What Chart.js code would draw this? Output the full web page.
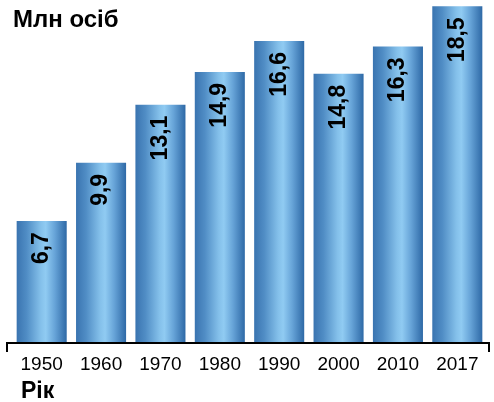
<!DOCTYPE html>
<html>
<head>
<meta charset="utf-8">
<script src="https://cdn.jsdelivr.net/npm/chart.js@4/dist/chart.umd.min.js"></script>
<style>
  html, body { margin: 0; padding: 0; background: #fff; }
  #wrap { width: 494px; height: 402px; position: relative; }
</style>
</head>
<body>
<div id="wrap"><canvas id="c" width="494" height="402"></canvas></div>
<script>
// Population, million people, by year
const years = ['1950', '1960', '1970', '1980', '1990', '2000', '2010', '2017'];
const population = [6.7, 9.9, 13.1, 14.9, 16.6, 14.8, 16.3, 18.5];
const yAxisTitle = 'Млн осіб';
const xAxisTitle = 'Рік';

const FONT = "'Liberation Sans', Arial, Helvetica, sans-serif";
const BAR_PCT = 0.843;

// Horizontal "cylinder" gradient across each bar
function barGradient(ctx) {
  const chart = ctx.chart;
  const xs = chart.scales && chart.scales.x;
  if (!xs || ctx.dataIndex === undefined) return '#4f8cc4';
  const cx = xs.getPixelForValue(ctx.dataIndex);
  const half = (xs.width / years.length) * BAR_PCT / 2;
  if (!isFinite(cx) || !isFinite(half) || half <= 0) return '#4f8cc4';
  const g = chart.ctx.createLinearGradient(cx - half, 0, cx + half, 0);
  g.addColorStop(0.00, '#3a74b0');
  g.addColorStop(0.20, '#508dc5');
  g.addColorStop(0.48, '#84c0ea');
  g.addColorStop(0.58, '#90cbf2');
  g.addColorStop(0.76, '#67a4d8');
  g.addColorStop(1.00, '#2e69a6');
  return g;
}

// Axis line, titles and rotated value labels
const decorations = {
  id: 'decorations',
  afterDatasetsDraw(chart) {
    const { ctx, chartArea } = chart;
    const meta = chart.getDatasetMeta(0);
    ctx.save();
    ctx.fillStyle = '#000';
    ctx.font = 'bold 23px ' + FONT;
    ctx.textAlign = 'right';
    ctx.textBaseline = 'middle';
    meta.data.forEach((bar, i) => {
      const txt = population[i].toFixed(1).replace('.', ',');
      ctx.save();
      ctx.translate(bar.x, bar.y + 11);
      ctx.rotate(-Math.PI / 2);
      ctx.fillText(txt, 0, 0);
      ctx.restore();
    });

    // baseline with end ticks
    const y = chartArea.bottom;
    const x0 = chartArea.left - 5, x1 = chartArea.right + 2;
    ctx.strokeStyle = '#000';
    ctx.lineWidth = 2;
    ctx.beginPath();
    ctx.moveTo(x0, y + 9);
    ctx.lineTo(x0, y);
    ctx.lineTo(x1, y);
    ctx.lineTo(x1, y + 9);
    ctx.stroke();

    ctx.textAlign = 'left';
    ctx.textBaseline = 'alphabetic';
    ctx.font = 'bold 24px ' + FONT;
    ctx.fillText(yAxisTitle, 13, 27);
    ctx.font = 'bold 23px ' + FONT;
    ctx.fillText(xAxisTitle, 21, 398);
    ctx.restore();
  }
};

new Chart(document.getElementById('c'), {
  type: 'bar',
  data: {
    labels: years,
    datasets: [{
      data: population,
      backgroundColor: barGradient,
      borderWidth: 0,
      categoryPercentage: 1,
      barPercentage: BAR_PCT
    }]
  },
  options: {
    responsive: false,
    animation: false,
    layout: { padding: { left: 12, right: 7, top: 0, bottom: 0 } },
    plugins: { legend: { display: false }, tooltip: { enabled: false }, title: { display: false } },
    scales: {
      y: { display: false, min: 0, max: 18.85 },
      x: {
        grid: { display: false },
        border: { display: false },
        ticks: { color: '#000', font: { family: FONT, size: 19 }, padding: 2, maxRotation: 0 },
        afterFit(scale) { scale.height = 59; }
      }
    }
  },
  plugins: [decorations]
});
</script>
</body>
</html>
